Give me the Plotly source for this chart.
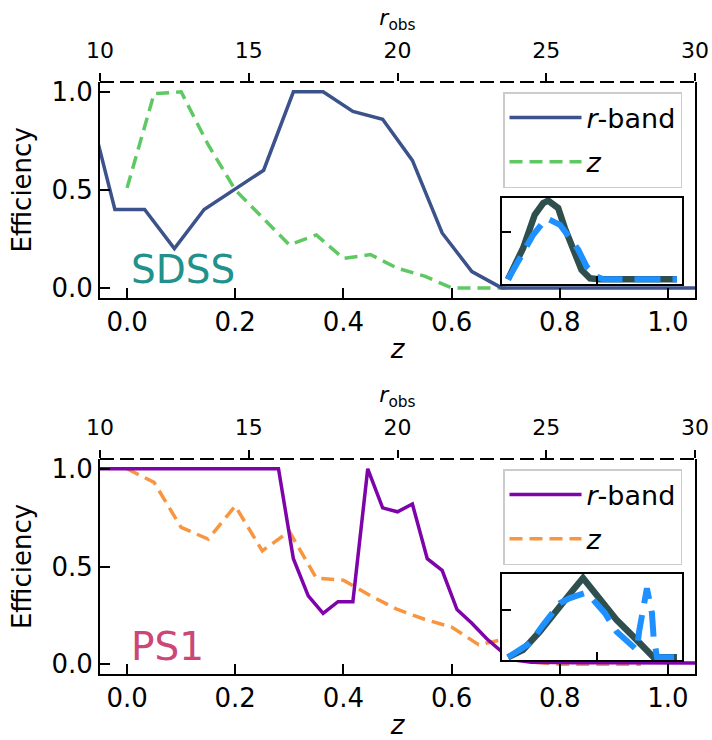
import plotly.graph_objects as go

FONT = "DejaVu Sans"

# ---------------- SDSS (top panel) ----------------
sdss_r_mag = [9.5, 10.5, 11.5, 12.5, 13.5, 14.5, 15.5, 16.5, 17.5, 18.5, 19.5,
              20.5, 21.5, 22.5, 23.5, 24.5, 25.5, 26.5, 27.5, 28.5, 29.5, 30.5]
sdss_r_eff = [1.0, 0.40, 0.40, 0.20, 0.40, 0.50, 0.60, 1.0, 1.0, 0.90, 0.86,
              0.65, 0.28, 0.083, 0.0, 0.0, 0.0, 0.0, 0.0, 0.0, 0.0, 0.0]
sdss_z = [0.0, 0.05, 0.10, 0.15, 0.20, 0.25, 0.30, 0.35, 0.40, 0.45, 0.50,
          0.55, 0.60, 0.65, 0.70]
sdss_z_eff = [0.51, 0.99, 1.0, 0.73, 0.50, 0.36, 0.22, 0.27, 0.15, 0.17, 0.10,
              0.06, 0.0, 0.0, 0.0]

# inset (SDSS)
sdss_in_x_a = [0.033, 0.117, 0.182, 0.229, 0.257, 0.312, 0.349, 0.396, 0.442,
               0.489, 0.545, 0.972]
sdss_in_y_a = [0.0, 0.396, 0.821, 0.970, 1.0, 0.906, 0.651, 0.353, 0.119,
               0.013, 0.0, 0.0]
sdss_in_x_b = [0.033, 0.108, 0.173, 0.247, 0.322, 0.377, 0.424, 0.470, 0.526,
               0.563, 0.972]
sdss_in_y_b = [0.0, 0.311, 0.566, 0.779, 0.694, 0.524, 0.375, 0.162, 0.035,
               0.0, 0.0]

# ---------------- PS1 (bottom panel) ----------------
ps1_r_mag = [9.5, 16.0, 16.5, 17.0, 17.5, 18.0, 18.5, 19.0, 19.5, 20.0, 20.5,
             21.0, 21.5, 22.0, 22.5, 23.0, 23.5, 24.0, 24.5, 25.0, 26.0, 27.0,
             28.0, 29.0, 30.0, 30.5]
ps1_r_eff = [1.0, 1.0, 0.54, 0.35, 0.26, 0.32, 0.32, 1.0, 0.80, 0.78, 0.82,
             0.54, 0.48, 0.28, 0.21, 0.13, 0.065, 0.02, 0.01, 0.008, 0.008,
             0.008, 0.006, 0.006, 0.006, 0.006]
ps1_z = [0.0, 0.05, 0.10, 0.15, 0.20, 0.25, 0.30, 0.35, 0.40, 0.45, 0.50,
         0.55, 0.60, 0.65, 0.70, 0.75, 0.80, 0.85, 0.90, 0.95]
ps1_z_eff = [1.0, 0.93, 0.70, 0.64, 0.81, 0.58, 0.68, 0.44, 0.43, 0.35, 0.28,
             0.23, 0.19, 0.10, 0.13, 0.01, 0.0, 0.0, 0.0, 0.0]

# inset (PS1)
ps1_in_x_a = [0.033, 0.117, 0.210, 0.303, 0.396, 0.450, 0.526, 0.636, 0.730,
              0.805, 0.842, 0.972]
ps1_in_y_a = [0.0, 0.093, 0.325, 0.600, 0.853, 1.0, 0.790, 0.473, 0.261,
              0.072, 0.0, 0.0]
ps1_in_x_b = [0.033, 0.154, 0.229, 0.322, 0.377, 0.414, 0.461, 0.507, 0.572,
              0.636, 0.710, 0.749, 0.762, 0.777, 0.805, 0.833, 0.842, 0.861,
              0.972]
ps1_in_y_b = [0.0, 0.178, 0.410, 0.683, 0.747, 0.768, 0.810, 0.726, 0.557,
              0.325, 0.156, 0.093, 0.33, 0.54, 0.87, 0.56, 0.26, 0.0, 0.0]

z_ticks = [0.0, 0.2, 0.4, 0.6, 0.8, 1.0]
eff_ticks = [0.0, 0.5, 1.0]
r_ticks = [10, 15, 20, 25, 30]

# colours
C_SDSS_R = "#3b528b"
C_SDSS_Z = "#5ec962"
C_SDSS_TXT = "#21918c"
C_PS1_R = "#7e03a8"
C_PS1_Z = "#f89540"
C_PS1_TXT = "#cc4778"
C_IN_A = "#2f4f4f"
C_IN_B = "#1e90ff"

W, H = 712, 740
XD = [100 / W, 695 / W]
YD_TOP = [1 - 297.7 / H, 1 - 82 / H]
YD_BOT = [1 - 674 / H, 1 - 459 / H]
XD_IN = [502 / W, 682 / W]
YD_IN_TOP = [1 - 284 / H, 1 - 198 / H]
YD_IN_BOT = [1 - 660 / H, 1 - 574 / H]

fig = go.Figure()

# top panel
fig.add_trace(go.Scatter(x=sdss_r_mag, y=sdss_r_eff, xaxis="x2", yaxis="y",
                         mode="lines", name="<i>r</i>-band", legend="legend",
                         legendgroup="a", line=dict(color=C_SDSS_R, width=3.5)))
fig.add_trace(go.Scatter(x=sdss_z, y=sdss_z_eff, xaxis="x", yaxis="y",
                         mode="lines", name="<i>z</i>", legend="legend",
                         legendgroup="b",
                         line=dict(color=C_SDSS_Z, width=3.5, dash="13px,7px")))
fig.add_trace(go.Scatter(x=sdss_in_x_a, y=sdss_in_y_a, xaxis="x3", yaxis="y2",
                         mode="lines", showlegend=False,
                         line=dict(color=C_IN_A, width=6.5)))
fig.add_trace(go.Scatter(x=sdss_in_x_b, y=sdss_in_y_b, xaxis="x3", yaxis="y2",
                         mode="lines", showlegend=False,
                         line=dict(color=C_IN_B, width=6, dash="26px,12px")))

# bottom panel
fig.add_trace(go.Scatter(x=ps1_r_mag, y=ps1_r_eff, xaxis="x5", yaxis="y3",
                         mode="lines", name="<i>r</i>-band", legend="legend2",
                         legendgroup="c", line=dict(color=C_PS1_R, width=3.5)))
fig.add_trace(go.Scatter(x=ps1_z, y=ps1_z_eff, xaxis="x4", yaxis="y3",
                         mode="lines", name="<i>z</i>", legend="legend2",
                         legendgroup="d",
                         line=dict(color=C_PS1_Z, width=3.5, dash="13px,7px")))
fig.add_trace(go.Scatter(x=ps1_in_x_a, y=ps1_in_y_a, xaxis="x6", yaxis="y4",
                         mode="lines", showlegend=False,
                         line=dict(color=C_IN_A, width=6.5)))
fig.add_trace(go.Scatter(x=ps1_in_x_b, y=ps1_in_y_b, xaxis="x6", yaxis="y4",
                         mode="lines", showlegend=False,
                         line=dict(color=C_IN_B, width=6, dash="26px,12px")))

common = dict(showgrid=False, zeroline=False, linecolor="black", linewidth=2,
              tickcolor="black", tickwidth=1.5, automargin=False)

TICK_FS = 26


def main_x(anchor):
    return dict(domain=XD, anchor=anchor, range=[-0.05, 1.05],
                tickvals=z_ticks, tickformat=".1f", ticks="inside", ticklen=10,
                showline=True, mirror=False, tickfont=dict(size=TICK_FS),
                title=dict(text="<i>z</i>", font=dict(size=26), standoff=4),
                **common)


def main_y(anchor, dom):
    return dict(domain=dom, anchor=anchor, range=[-0.05, 1.05],
                tickvals=eff_ticks, tickformat=".1f", ticks="inside",
                ticklen=10, showline=True, mirror=True,
                tickfont=dict(size=TICK_FS),
                title=dict(text="Efficiency", font=dict(size=26), standoff=12),
                **common)


def top_x(overlay, anchor):
    return dict(overlaying=overlay, side="top", anchor=anchor, range=[10, 30],
                tickvals=r_ticks, ticks="outside", ticklen=8, showline=False,
                tickfont=dict(size=22), ticklabelstandoff=6,
                title=dict(text="<i>r</i><sub>obs</sub>", font=dict(size=22),
                           standoff=6),
                **common)


def inset_x(anchor):
    return dict(domain=XD_IN, anchor=anchor, range=[0, 1], tickvals=[0.528],
                ticks="inside", ticklen=8, showticklabels=False,
                showline=True, mirror=True, **common)


def inset_y(anchor, dom, rng):
    return dict(domain=dom, anchor=anchor, range=rng, tickvals=[0.6],
                ticks="inside", ticklen=9, showticklabels=False,
                showline=True, mirror=True, **common)


legend_common = dict(xanchor="right", yanchor="top", bgcolor="white",
                     bordercolor="#cccccc", borderwidth=1.5,
                     font=dict(size=27, color="black"), itemwidth=72,
                     traceorder="grouped", tracegroupgap=6)

fig.update_layout(
    width=W, height=H,
    margin=dict(l=0, r=0, t=0, b=0),
    paper_bgcolor="white", plot_bgcolor="white",
    font=dict(family=FONT, color="black"),
    xaxis=main_x("y"),
    yaxis=main_y("x", YD_TOP),
    xaxis2=top_x("x", "y"),
    xaxis3=inset_x("y2"),
    yaxis2=inset_y("x3", YD_IN_TOP, [-0.059, 1.034]),
    xaxis4=main_x("y3"),
    yaxis3=main_y("x4", YD_BOT),
    xaxis5=top_x("x4", "y3"),
    xaxis6=inset_x("y4"),
    yaxis4=inset_y("x6", YD_IN_BOT, [-0.034, 1.051]),
    legend=dict(x=682 / W, y=1 - 92 / H, **legend_common),
    legend2=dict(x=682 / W, y=1 - 469 / H, **legend_common),
    showlegend=True,
)

# dashed upper spines (paper coordinates so they are not clipped)
for dom in [YD_TOP, YD_BOT]:
    fig.add_shape(type="line", xref="paper", yref="paper",
                  x0=XD[0], x1=XD[1], y0=dom[1], y1=dom[1],
                  line=dict(color="black", width=2, dash="14px,6px"))

fig.add_annotation(text="SDSS", xref="x", yref="y", x=0.004, y=-0.03,
                   xanchor="left", yanchor="bottom", showarrow=False,
                   font=dict(size=39, color=C_SDSS_TXT))
fig.add_annotation(text="PS1", xref="x4", yref="y3", x=0.004, y=-0.036,
                   xanchor="left", yanchor="bottom", showarrow=False,
                   font=dict(size=39, color=C_PS1_TXT))

fig.write_html("out.html")
